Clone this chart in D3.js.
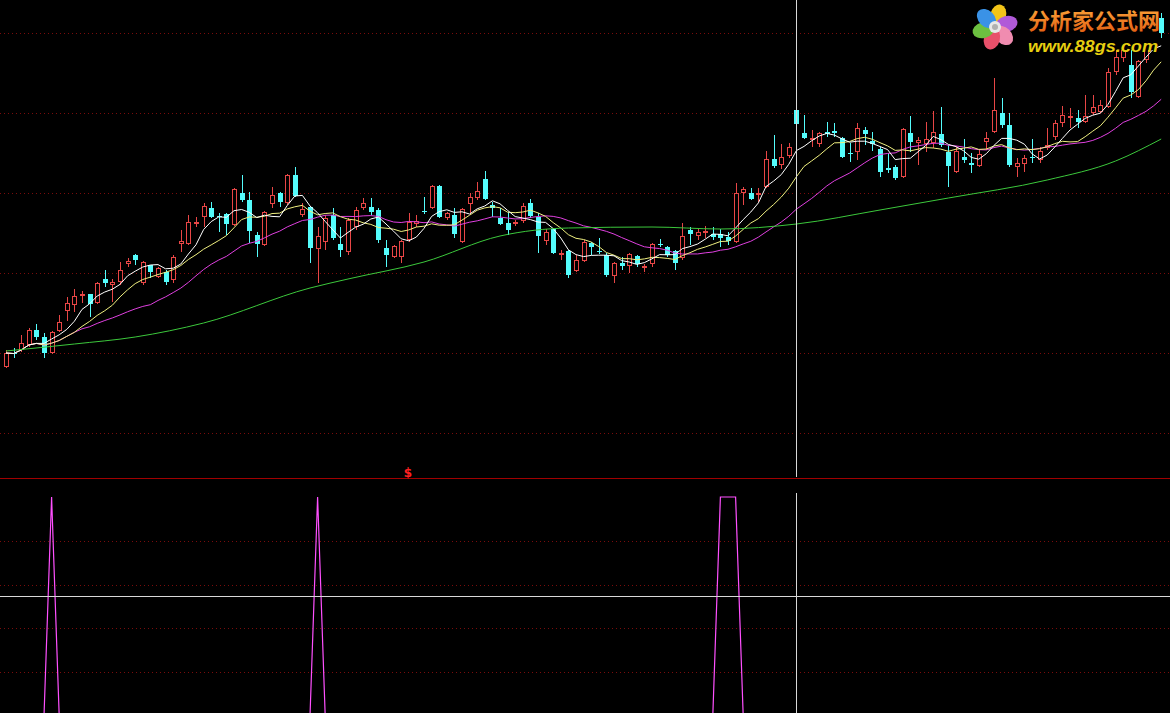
<!DOCTYPE html>
<html><head><meta charset="utf-8">
<script src="https://cdn.jsdelivr.net/npm/d3@7"></script>
<style>html,body{margin:0;padding:0;background:#000;overflow:hidden}</style>
</head><body><svg id="c" width="1170" height="713"></svg>
<script>
const opens = [
14.6,16.05,16.3,16.8,18.3,17.6,16.0,18.2,20.2,20.8,
21.7,21.9,21.0,23.4,22.8,23.1,24.9,25.8,23.0,24.8,
23.6,24.1,23.3,26.9,26.9,28.95,29.6,30.5,29.7,29.9,
28.8,32.0,31.3,27.8,26.8,30.9,32.0,31.0,33.8,29.8,
30.6,26.4,27.1,29.8,26.9,26.1,28.6,30.5,30.6,30.3,
26.5,25.6,25.6,27.3,28.9,30.2,30.5,32.7,29.5,29.8,
27.1,30.9,31.5,33.4,30.8,29.5,29.0,28.9,29.2,31.0,
29.6,27.2,28.4,25.8,26.2,24.2,25.2,27.0,26.2,25.8,
23.7,25.0,24.7,25.7,24.55,24.9,26.95,26.6,26.2,25.5,
28.3,27.7,28.0,27.9,27.9,27.6,27.1,32.0,32.0,31.9,
32.6,35.4,34.8,35.7,40.3,38.0,37.3,36.9,38.1,38.2,
37.5,36.0,36.1,38.3,37.25,36.4,34.55,34.6,33.6,38.0,
37.0,36.9,37.0,37.9,36.1,34.1,35.6,34.95,34.7,37.1,
38.1,40.0,38.8,34.6,34.9,35.65,35.3,36.45,37.6,39.0,
39.55,39.5,39.1,40.0,40.1,40.6,44.1,45.5,44.8,41.6,
45.3,48.0,49.5];
const highs = [
16.3,16.5,17.8,18.5,18.9,18.0,18.2,19.8,21.6,22.4,
22.2,21.9,23.1,24.3,23.4,25.1,25.5,25.9,25.2,24.8,
24.6,24.3,25.8,28.3,29.8,29.6,31.0,31.1,30.0,30.0,
32.5,33.8,32.1,28.1,30.2,32.6,32.1,33.9,34.6,31.0,
30.7,28.6,29.8,30.5,28.6,29.5,30.6,31.5,31.5,30.5,
27.3,26.8,27.3,30.0,29.8,31.6,32.8,32.8,30.1,30.5,
30.5,32.0,33.1,34.2,31.1,30.5,30.1,29.3,31.0,31.4,
30.0,28.4,28.5,26.3,26.3,25.8,27.3,27.1,27.5,26.0,
25.1,25.6,26.0,25.8,24.9,27.0,27.4,26.7,26.3,29.0,
28.6,28.4,28.7,28.6,28.4,28.1,33.0,32.6,32.5,32.5,
36.2,37.8,36.9,37.0,41.4,39.8,38.3,38.1,39.1,39.0,
37.6,37.0,39.0,38.6,38.1,36.6,36.0,34.8,38.5,39.7,
37.6,39.1,40.2,40.6,36.8,36.6,37.4,36.0,36.3,38.1,
43.5,41.5,40.0,35.5,35.8,37.4,36.6,38.5,39.3,40.7,
40.5,40.3,41.8,41.8,41.3,44.5,46.5,47.1,48.3,45.3,
49.0,50.5,50.0];
const lows = [
14.5,15.5,16.1,16.6,17.3,15.5,15.9,18.1,19.2,20.1,
21.0,19.6,20.9,22.6,21.1,22.8,24.6,24.8,22.8,23.5,
23.5,22.8,23.0,26.1,26.8,28.6,28.6,29.5,28.1,27.8,
28.7,31.1,27.0,25.6,26.7,30.5,30.6,30.8,31.6,29.6,
25.0,23.0,26.3,27.3,25.6,25.8,28.3,30.3,29.8,27.0,
24.6,25.5,25.0,27.1,28.6,29.9,30.4,29.5,29.3,27.5,
27.0,30.0,31.3,31.3,29.6,28.8,27.8,28.7,29.0,29.5,
26.0,26.8,25.9,25.3,23.5,24.1,25.1,25.8,25.9,23.6,
23.0,24.3,24.0,24.6,24.1,24.6,26.6,25.6,24.3,25.3,
26.8,27.3,27.5,27.3,26.6,26.8,27.0,30.8,31.3,31.1,
32.5,34.5,34.4,35.5,37.6,37.4,36.6,36.6,37.6,37.6,
35.5,35.1,35.3,36.8,36.2,33.6,34.0,33.3,33.5,36.1,
34.8,36.1,36.5,36.6,32.6,34.0,35.0,34.0,34.6,36.3,
38.0,38.5,34.6,33.6,34.1,35.0,35.0,36.3,37.3,38.6,
38.5,38.5,39.0,39.8,40.0,40.55,43.8,45.1,41.5,41.5,
45.0,47.6,47.5];
const closes = [
16.0,15.9,17.0,18.3,17.6,16.0,18.1,19.1,21.0,21.7,
21.9,20.9,23.0,23.0,23.1,24.3,25.2,25.3,25.1,24.1,
24.5,23.1,25.6,27.2,29.1,29.1,30.7,29.6,29.55,28.9,
32.4,31.3,28.2,26.9,30.1,31.8,31.1,33.8,31.7,30.4,
26.5,27.7,29.5,27.5,26.3,29.3,30.3,31.0,30.1,27.3,
25.8,26.7,27.2,29.1,29.2,30.1,32.7,29.6,30.0,27.9,
30.4,31.6,32.2,31.4,30.5,28.9,28.3,29.1,30.7,29.7,
27.7,28.1,26.0,26.0,23.8,25.3,27.1,26.6,26.1,23.8,
25.0,24.7,25.9,24.9,24.7,26.9,26.8,25.8,25.0,27.7,
27.9,28.1,28.2,27.6,27.5,27.2,32.0,32.4,31.4,32.05,
35.4,34.7,35.6,36.6,38.9,37.5,37.5,38.0,37.9,38.05,
35.6,35.85,38.5,37.9,36.9,34.1,34.3,33.5,38.4,37.1,
37.3,37.4,38.1,36.8,34.7,36.2,35.3,34.8,35.9,37.5,
40.3,38.8,34.8,35.0,35.5,35.5,36.2,36.8,39.0,39.8,
39.7,39.1,39.7,40.6,40.8,44.1,45.6,46.5,42.1,45.2,
48.5,49.8,48.0];
// long moving average (green) read at these bar positions
const longMaIdx = [0,9,17,26,40,45,55,65,74,85,94,104,115,124,137,146,152];
const longMaVals = [16.2,16.9,17.6,19.0,22.5,23.4,25.1,27.7,28.5,28.6,28.4,28.9,30.3,31.5,33.3,35.2,37.4];
// lower indicator panel
const indicator = [
0,0,0,0,0,0,100,0,0,0,
0,0,0,0,0,0,0,0,0,0,
0,0,0,0,0,0,0,0,0,0,
0,0,0,0,0,0,0,0,0,0,
0,100,0,0,0,0,0,0,0,0,
0,0,0,0,0,0,0,0,0,0,
0,0,0,0,0,0,0,0,0,0,
0,0,0,0,0,0,0,0,0,0,
0,0,0,0,0,0,0,0,0,0,
0,0,0,0,100,100,100,0,0,0,
0,0,0,0,0,0,0,0,0,0,
0,0,0,0,0,0,0,0,0,0,
0,0,0,0,0,0,0,0,0,0,
0,0,0,0,0,0,0,0,0,0,
0,0,0,0,0,0,0,0,0,0,
0,0,0];
const mainGrid = [8,16,24,32,40,48];
const indGrid = [20,40,60,80];
const cursorIndex = 104;
const cursorLevel = 55;

const svg = d3.select("#c");
svg.append("rect").attr("width",1170).attr("height",713).attr("fill","#000");

const n = closes.length;
const x = d3.scaleLinear().domain([0, n-1]).range([6, 6 + 7.6*(n-1)]);
const y = d3.scaleLinear().domain([8,48]).range([433,33]);
const yI = d3.scaleLinear().domain([0,100]).range([716,497]);

// grids
svg.append("g").selectAll("line").data(mainGrid).join("line")
  .attr("x1",0).attr("x2",1170)
  .attr("y1",d=>Math.round(y(d))+0.5).attr("y2",d=>Math.round(y(d))+0.5)
  .attr("stroke","#7a0c0c").attr("stroke-dasharray","1,3");
svg.append("g").selectAll("line").data(indGrid).join("line")
  .attr("x1",0).attr("x2",1170)
  .attr("y1",d=>Math.round(yI(d))+0.5).attr("y2",d=>Math.round(yI(d))+0.5)
  .attr("stroke","#7a0c0c").attr("stroke-dasharray","1,3");

// candles
const RED = "#e84646", CYAN = "#54fcfc";
const cg = svg.append("g");
d3.range(n).forEach(i=>{
  const cx = Math.round(x(i)) + 0.5;
  const o = opens[i], c = closes[i], h = highs[i], l = lows[i];
  const up = c >= o;
  const col = up ? RED : CYAN;
  const yt = Math.round(y(Math.max(o,c))), yb = Math.round(y(Math.min(o,c)));
  const yh = Math.round(y(h)), yl = Math.round(y(l));
  if (yb - yt < 1) {
    cg.append("line").attr("x1",cx).attr("x2",cx).attr("y1",yh).attr("y2",yl).attr("stroke",col);
    cg.append("line").attr("x1",cx-2.5).attr("x2",cx+2.5).attr("y1",yt+0.5).attr("y2",yt+0.5).attr("stroke",col);
  } else if (up) {
    cg.append("line").attr("x1",cx).attr("x2",cx).attr("y1",yh).attr("y2",yt).attr("stroke",col);
    cg.append("line").attr("x1",cx).attr("x2",cx).attr("y1",yb).attr("y2",yl).attr("stroke",col);
    cg.append("rect").attr("x",cx-2).attr("y",yt+0.5).attr("width",4).attr("height",Math.max(1,yb-yt-1))
      .attr("fill","#000").attr("stroke",col);
  } else {
    cg.append("line").attr("x1",cx).attr("x2",cx).attr("y1",yh).attr("y2",yl).attr("stroke",col);
    cg.append("rect").attr("x",cx-2.5).attr("y",yt).attr("width",5).attr("height",yb-yt).attr("fill",col);
  }
});

// moving averages derived from closes
function ma(k){ return closes.map((_,i)=>{ const s=closes.slice(Math.max(0,i-k+1),i+1); return d3.mean(s); }); }
const lineGen = d3.line().x((d,i)=>x(i)).y(d=>y(d));
[[ma(20),"#e040e0"],[ma(10),"#f0f080"],[ma(5),"#ffffff"]].forEach(([arr,col])=>{
  svg.append("path").attr("d",lineGen(arr)).attr("fill","none").attr("stroke",col).attr("stroke-width",1);
});
svg.append("path")
  .attr("d", d3.line().curve(d3.curveMonotoneX).x((d,k)=>x(longMaIdx[k])).y(d=>y(d))(longMaVals))
  .attr("fill","none").attr("stroke","#3cc83c").attr("stroke-width",1);

// panel separator
svg.append("line").attr("x1",0).attr("x2",1170).attr("y1",478.5).attr("y2",478.5).attr("stroke","#a00000");
svg.append("text").attr("x",408).attr("y",477).attr("fill","#ff2020").attr("font-size",12)
  .attr("font-family","DejaVu Sans").attr("font-weight","bold").attr("text-anchor","middle").text("$");

// indicator
svg.append("defs").append("clipPath").attr("id","ic").append("rect").attr("x",0).attr("y",480).attr("width",1170).attr("height",233);
svg.append("path").attr("clip-path","url(#ic)")
  .attr("d", d3.line().x((d,i)=>x(i)).y(d=>yI(d))(indicator))
  .attr("fill","none").attr("stroke","#ff50ff").attr("stroke-width",1.2);

// cursor
const cxp = Math.round(x(cursorIndex)) + 0.5;
svg.append("line").attr("x1",cxp).attr("x2",cxp).attr("y1",0).attr("y2",477).attr("stroke","#d8d8d8");
svg.append("line").attr("x1",cxp).attr("x2",cxp).attr("y1",493).attr("y2",713).attr("stroke","#d8d8d8");
svg.append("line").attr("x1",0).attr("x2",1170).attr("y1",Math.round(yI(cursorLevel))+0.5).attr("y2",Math.round(yI(cursorLevel))+0.5).attr("stroke","#d8d8d8");

// logo (watermark with its own black backing)
svg.append("rect").attr("x",966).attr("y",0).attr("width",191).attr("height",50).attr("fill","#000");
const lg = svg.append("g").attr("transform","translate(995,27)");
const petals = [["#f2c418",-75],["#b05ad8",-15],["#f08cb0",45],["#e8506a",105],["#6cc040",165],["#3a92e6",225]];
petals.forEach(([col,a])=>{
  lg.append("ellipse").attr("cx",0).attr("cy",-12).attr("rx",8).attr("ry",11)
    .attr("fill",col).attr("transform",`rotate(${a+90})`);
});
lg.append("circle").attr("r",6).attr("fill","#e8e8e8");
lg.append("circle").attr("r",3).attr("fill","#b0b0b0");
const grad = svg.append("defs").append("linearGradient").attr("id","og").attr("x1",0).attr("y1",0).attr("x2",0).attr("y2",1);
grad.append("stop").attr("offset","0").attr("stop-color","#ffb040");
grad.append("stop").attr("offset","1").attr("stop-color","#e05a10");
svg.append("text").attr("x",1028).attr("y",29).attr("fill","url(#og)").attr("font-size",22)
  .attr("font-family","Noto Sans CJK SC").attr("font-weight","bold")
  .attr("textLength",132).attr("lengthAdjust","spacingAndGlyphs").text("分析家公式网");
svg.append("text").attr("x",1028).attr("y",52).attr("fill","#e6cf10").attr("font-size",17)
  .attr("font-family","Liberation Sans").attr("font-weight","bold").attr("font-style","italic")
  .attr("textLength",130).attr("lengthAdjust","spacingAndGlyphs").text("www.88gs.com");
</script></body></html>
